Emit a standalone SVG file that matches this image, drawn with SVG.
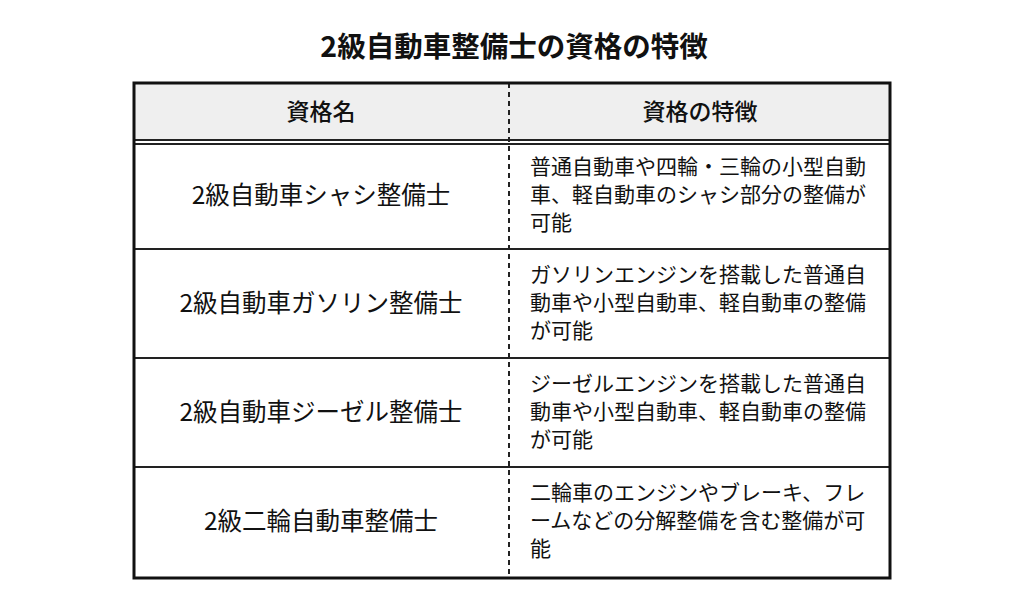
<svg xmlns="http://www.w3.org/2000/svg" width="1024" height="614" viewBox="0 0 1024 614">
<style>
text{font-family:"Noto Sans CJK JP","Noto Sans",sans-serif;fill:#111}
.t{font-size:28.5px;font-weight:bold}
.h{font-size:23px;font-weight:500;text-anchor:middle}
.n{font-size:24.5px;text-anchor:middle}
.d{font-size:21px}
.ln{stroke:#222;stroke-width:2;fill:none}
</style>
<rect width="1024" height="614" fill="#fff"/>
<text class="t" x="514" y="57" text-anchor="middle">2級自動車整備士の資格の特徴</text>
<g id="header"><rect x="134" y="83" width="756" height="57" fill="#efefef"/>
<text class="h" x="321" y="120">資格名</text><text class="h" x="700" y="120">資格の特徴</text></g>
<g id="connectors">
<line class="ln" x1="133" y1="140" x2="891" y2="140" stroke-width="1.5"/>
<line class="ln" x1="133" y1="144" x2="891" y2="144" stroke-width="1.5"/>
<line class="ln" x1="133" y1="249" x2="891" y2="249"/>
<line class="ln" x1="133" y1="358" x2="891" y2="358"/>
<line class="ln" x1="133" y1="467" x2="891" y2="467"/>
<line class="ln" x1="509" y1="83" x2="509" y2="578" stroke-width="1.5" stroke-dasharray="5,4"/>
<rect x="134" y="83" width="756" height="495" fill="none" stroke="#111" stroke-width="3"/>
</g>
<g id="row1"><text class="n" x="321" y="204">2級自動車シャシ整備士</text>
<text class="d" x="530" y="174">普通自動車や四輪・三輪の小型自動</text><text class="d" x="530" y="202">車、軽自動車のシャシ部分の整備が</text><text class="d" x="530" y="230">可能</text></g>
<g id="row2"><text class="n" x="321" y="312">2級自動車ガソリン整備士</text>
<text class="d" x="530" y="282">ガソリンエンジンを搭載した普通自</text><text class="d" x="530" y="310">動車や小型自動車、軽自動車の整備</text><text class="d" x="530" y="338">が可能</text></g>
<g id="row3"><text class="n" x="321" y="421">2級自動車ジーゼル整備士</text>
<text class="d" x="530" y="391">ジーゼルエンジンを搭載した普通自</text><text class="d" x="530" y="419">動車や小型自動車、軽自動車の整備</text><text class="d" x="530" y="447">が可能</text></g>
<g id="row4"><text class="n" x="321" y="530">2級二輪自動車整備士</text>
<text class="d" x="530" y="500">二輪車のエンジンやブレーキ、フレ</text><text class="d" x="530" y="528">ームなどの分解整備を含む整備が可</text><text class="d" x="530" y="556">能</text></g>
</svg>
